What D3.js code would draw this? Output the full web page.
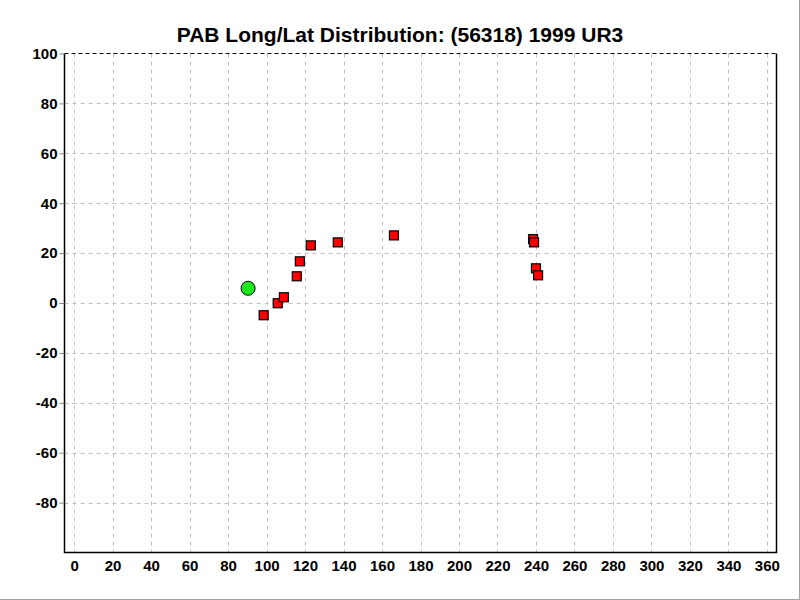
<!DOCTYPE html>
<html>
<head>
<meta charset="utf-8">
<script src="https://cdn.jsdelivr.net/npm/d3@7"></script>
<style>
  body { margin: 0; background: #fff; }
  svg { display: block; font-family: "Liberation Sans", Arial, sans-serif; }
</style>
</head>
<body>
<svg id="chart" width="800" height="600"></svg>
<script>
// PAB positions (longitude, latitude)
const pabLon = [98.5, 105.8, 109.0, 115.7, 117.3, 123.0, 137.0, 166.2, 238.5, 239.0, 240.0, 241.1];
const pabLat = [-4.9, -0.1, 2.3, 10.7, 16.7, 23.1, 24.3, 27.1, 25.6, 24.3, 13.9, 11.1];
// reference point (green)
const refLon = [90.4];
const refLat = [5.9];

const xTicks = d3.range(0, 361, 20);
const yTicks = d3.range(-80, 101, 20);

const svg = d3.select("#chart");
const plotL = 64.5, plotR = 776.5, plotT = 53.5, plotB = 552.5;

const x = d3.scaleLinear().domain([-5, 365]).range([plotL, plotR]);
const y = d3.scaleLinear().domain([-100, 100]).range([plotB, plotT]);

// outer frame (right and bottom only)
svg.append("line").attr("x1", 799.5).attr("x2", 799.5).attr("y1", 0).attr("y2", 600)
    .attr("stroke", "#a0a0a0");
svg.append("line").attr("x1", 0).attr("x2", 800).attr("y1", 599.5).attr("y2", 599.5)
    .attr("stroke", "#a0a0a0");

// title
svg.append("text")
    .attr("x", 400).attr("y", 42)
    .attr("text-anchor", "middle")
    .attr("font-size", 21).attr("font-weight", "bold")
    .text("PAB Long/Lat Distribution: (56318) 1999 UR3");

// grid
const grid = svg.append("g").attr("stroke", "#c0c0c0").attr("stroke-dasharray", "4,4");
grid.selectAll(".vx").data(xTicks).enter().append("line")
    .attr("x1", d => Math.round(x(d)) + 0.5).attr("x2", d => Math.round(x(d)) + 0.5)
    .attr("y1", plotT).attr("y2", plotB);
grid.selectAll(".hy").data(yTicks.filter(d => d < 100)).enter().append("line")
    .attr("x1", plotL).attr("x2", plotR)
    .attr("y1", d => Math.round(y(d)) + 0.5).attr("y2", d => Math.round(y(d)) + 0.5);

// frame of the plot
svg.append("line").attr("x1", plotL).attr("x2", plotR).attr("y1", plotT).attr("y2", plotT)
    .attr("stroke", "#000").attr("stroke-dasharray", "4,3");
svg.append("path")
    .attr("d", `M${plotL},${plotT}V${plotB}H${plotR}V${plotT}`)
    .attr("fill", "none").attr("stroke", "#000").attr("stroke-width", 1.5);

// y axis
const yAxis = svg.append("g")
    .attr("transform", `translate(${plotL},0)`)
    .call(d3.axisLeft(y).tickValues(yTicks).tickFormat(d => String(d)).tickSize(5).tickPadding(2));
yAxis.select(".domain").remove();
yAxis.selectAll(".tick line").attr("stroke", "#808080");
yAxis.selectAll(".tick text")
    .attr("font-size", 15).attr("font-weight", "bold").attr("fill", "#000")
    .attr("font-family", "Liberation Sans, Arial, sans-serif");

// x axis
const xAxis = svg.append("g")
    .attr("transform", `translate(0,${plotB})`)
    .call(d3.axisBottom(x).tickValues(xTicks).tickFormat(d => String(d)).tickSize(0).tickPadding(8));
xAxis.select(".domain").remove();
xAxis.selectAll(".tick text")
    .attr("font-size", 15).attr("font-weight", "bold").attr("fill", "#000")
    .attr("font-family", "Liberation Sans, Arial, sans-serif");

// green reference point
svg.selectAll(".ref").data(refLon).enter().append("circle")
    .attr("cx", d => x(d)).attr("cy", (d, i) => y(refLat[i]))
    .attr("r", 7)
    .attr("fill", "#1ee81e").attr("stroke", "#000").attr("stroke-width", 1);

// red squares
const s = 9;
svg.selectAll(".pab").data(pabLon).enter().append("rect")
    .attr("x", d => x(d) - s / 2)
    .attr("y", (d, i) => y(pabLat[i]) - s / 2)
    .attr("width", s).attr("height", s)
    .attr("fill", "#ff0000").attr("stroke", "#000").attr("stroke-width", 1.2);
</script>
</body>
</html>
